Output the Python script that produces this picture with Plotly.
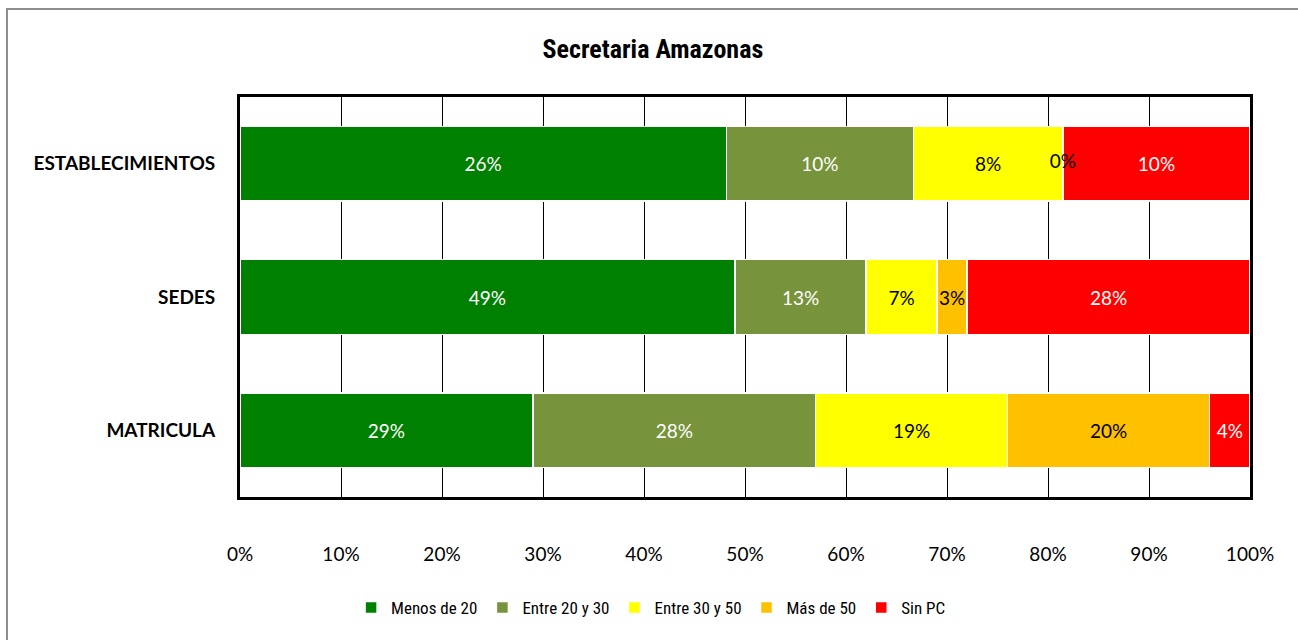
import plotly.graph_objects as go

categories = ["ESTABLECIMIENTOS", "SEDES", "MATRICULA"]
series_names = ["Menos de 20", "Entre 20 y 30", "Entre 30 y 50", "Más de 50", "Sin PC"]
menos_20 = [26, 49, 29]
entre_20_30 = [10, 13, 28]
entre_30_50 = [8, 7, 19]
mas_50 = [0, 3, 20]
sin_pc = [10, 28, 4]
series_values = [menos_20, entre_20_30, entre_30_50, mas_50, sin_pc]
colors = ["#008000", "#77933C", "#FFFF00", "#FFC000", "#FF0000"]
text_colors = ["white", "white", "black", "black", "white"]
tick_vals = [0, 10, 20, 30, 40, 50, 60, 70, 80, 90, 100]
tick_text = [f"{v}%" for v in tick_vals]

FONT_BODY = "Lato, Carlito, Calibri, sans-serif"
FONT_NARROW = "Liberation Sans Narrow, Arial Narrow, Roboto Condensed, Liberation Sans, sans-serif"

fig = go.Figure()
for name, vals, col, tcol in zip(series_names, series_values, colors, text_colors):
    fig.add_trace(go.Bar(
        y=categories, x=vals, name=name, orientation="h",
        marker=dict(color=col, line=dict(color="white", width=1.5)),
        text=[f"{round(v)}%" if v > 0 else "" for v in vals], textposition="inside",
        insidetextanchor="middle", constraintext="none", textangle=0,
        textfont=dict(family=FONT_BODY, size=19, color=tcol),
        cliponaxis=False,
    ))

# Labels for zero-width segments (drawn on top, at the segment's position in the 100% stack)
totals = [sum(s[i] for s in series_values) for i in range(len(categories))]
zx, zy, zt, zc = [], [], [], []
for s_idx, vals in enumerate(series_values):
    for i, v in enumerate(vals):
        if v == 0:
            before = sum(series_values[k][i] for k in range(s_idx))
            zx.append(before / totals[i] * 100)
            zy.append(categories[i])
            zt.append(f"{v}%")
            zc.append(text_colors[s_idx])
fig.add_trace(go.Scatter(
    x=zx, y=zy, text=zt, mode="text", showlegend=False, hoverinfo="skip",
    textfont=dict(family=FONT_BODY, size=19, color="black"), cliponaxis=False,
))

fig.update_layout(
    width=1298, height=640,
    barmode="stack", barnorm="percent", bargap=0.44,
    plot_bgcolor="white", paper_bgcolor="white",
    margin=dict(l=240, r=48, t=97, b=143),
    title=dict(text="<b>Secretaria Amazonas</b>", x=0.503, xanchor="center",
               y=1 - 49 / 640, yanchor="middle",
               font=dict(family=FONT_NARROW, size=26, color="black")),
    showlegend=True,
    legend=dict(orientation="h", x=0.407, xanchor="center", y=-0.2775, yanchor="middle",
                font=dict(family=FONT_NARROW, size=17, color="black"),
                itemwidth=30, traceorder="normal"),
)
fig.update_xaxes(
    range=[0, 100], tickvals=tick_vals, ticktext=tick_text,
    showgrid=True, gridcolor="black", gridwidth=1,
    showline=True, mirror=True, linecolor="black", linewidth=3,
    ticks="", ticklabelstandoff=38, zeroline=False,
    tickfont=dict(family=FONT_BODY, size=19, color="black"),
)
fig.update_yaxes(
    autorange="reversed", showgrid=False,
    showline=True, mirror=True, linecolor="black", linewidth=3,
    ticks="", ticklabelstandoff=18,
    tickfont=dict(family=FONT_BODY, size=19, color="black", weight="bold"),
)

fig.add_shape(type="rect", xref="paper", yref="paper",
              x0=(7 - 240) / 1010, x1=1.2, y0=-0.6, y1=(497 - 9) / 400,
              line=dict(color="#8c8c8c", width=2), fillcolor="rgba(0,0,0,0)", layer="below")

fig.write_html("out.html", config={"displayModeBar": False},
               post_script="document.body.style.margin='0';document.body.style.overflow='hidden';")
